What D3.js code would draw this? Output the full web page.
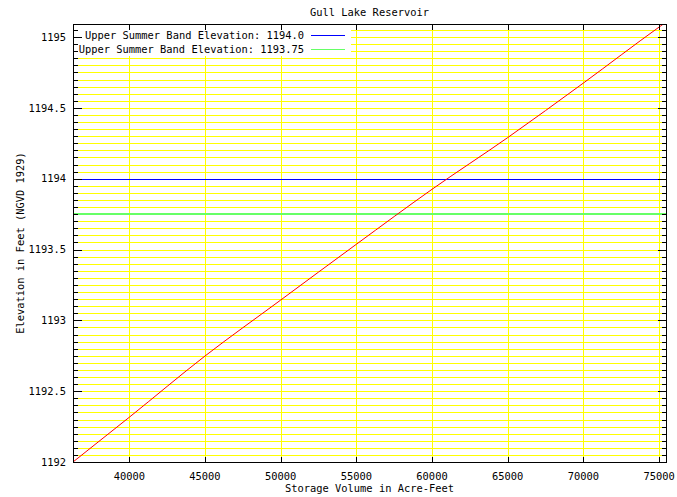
<!DOCTYPE html>
<html>
<head>
<meta charset="utf-8">
<script src="https://cdn.jsdelivr.net/npm/d3@7"></script>
<style>
  body { margin: 0; background: #fff; }
  svg text { font-family: "DejaVu Sans Mono", monospace; font-size: 10.4px; fill: #000; }
</style>
</head>
<body>
<svg id="chart"></svg>
<script>
'use strict';

// storage / elevation curve
const storage = [36280, 40000, 45000, 50000, 55000, 60000, 65000, 70000, 75000, 75460];
const elevation = [1192.0, 1192.316, 1192.748, 1193.143, 1193.537, 1193.925, 1194.29, 1194.675, 1195.07, 1195.105];

const bandLabels = ['Upper Summer Band Elevation: 1194.0', 'Upper Summer Band Elevation: 1193.75'];
const bandValues = [1194.0, 1193.75];
const bandColors = ['#0000ff', '#66ff66'];

const xTicks = [40000, 45000, 50000, 55000, 60000, 65000, 70000, 75000];
const yTicks = [1192, 1192.5, 1193, 1193.5, 1194, 1194.5, 1195];

const width = 677;
const height = 497;
const plotL = 73, plotR = 666, plotT = 24, plotB = 462;

const x = d3.scaleLinear().domain([36280, 75460]).range([plotL, plotR]);
const y = d3.scaleLinear().domain([1192, 1195.092]).range([plotB, plotT]);
const yMinor = d3.range(0, 62).map((i) => 1192 + i * 0.05);
const py = (d) => Math.round(y(d)) + 0.5;
const px = (d) => Math.round(x(d)) + 0.5;

const svg = d3.select('#chart')
    .attr('width', width)
    .attr('height', height);

svg.append('clipPath').attr('id', 'plot')
  .append('rect')
    .attr('x', plotL).attr('y', plotT)
    .attr('width', plotR - plotL).attr('height', plotB - plotT);

// yellow grid
const grid = svg.append('g')
    .attr('stroke', '#ffff00')
    .attr('stroke-width', 1)
    .attr('shape-rendering', 'crispEdges');
grid.selectAll('line.h')
    .data(yMinor.slice(1))
    .enter().append('line')
    .attr('class', 'h')
    .attr('x1', plotL).attr('x2', plotR)
    .attr('y1', py).attr('y2', py);
grid.selectAll('line.v')
    .data(xTicks)
    .enter().append('line')
    .attr('class', 'v')
    .attr('y1', plotT).attr('y2', plotB)
    .attr('x1', px).attr('x2', px);

// band lines
svg.append('g').selectAll('line')
    .data(bandValues)
    .enter().append('line')
    .attr('shape-rendering', 'crispEdges')
    .attr('x1', plotL).attr('x2', plotR)
    .attr('y1', (d, i) => i === 1 ? Math.round(y(d)) : py(d))
    .attr('y2', (d, i) => i === 1 ? Math.round(y(d)) : py(d))
    .attr('stroke', (d, i) => bandColors[i])
    .attr('stroke-width', (d, i) => i === 1 ? 2 : 1);

// storage curve
const line = d3.line()
    .x((d, i) => x(storage[i]))
    .y((d) => y(d))
    .curve(d3.curveMonotoneX);
svg.append('path')
    .attr('clip-path', 'url(#plot)')
    .attr('d', line(elevation))
    .attr('fill', 'none')
    .attr('stroke', '#ff0000')
    .attr('stroke-width', 1);

// legend box
svg.append('rect')
    .attr('x', plotL + 1).attr('y', plotT + 1)
    .attr('width', 277).attr('height', 31)
    .attr('fill', '#fff');
const legend = svg.append('g').selectAll('g')
    .data(bandLabels)
    .enter().append('g')
    .attr('transform', (d, i) => 'translate(0,' + (35 + i * 14) + ')');
legend.append('text')
    .attr('x', 304)
    .attr('dy', '0.35em')
    .style('text-anchor', 'end')
    .text((d) => d);
legend.append('line')
    .attr('shape-rendering', 'crispEdges')
    .attr('x1', 311).attr('x2', 345)
    .attr('y1', 0.5).attr('y2', 0.5)
    .attr('stroke', (d, i) => bandColors[i])
    .attr('stroke-width', 1);

// frame
svg.append('rect')
    .attr('shape-rendering', 'crispEdges')
    .attr('x', plotL + 0.5).attr('y', plotT + 0.5)
    .attr('width', plotR - plotL).attr('height', plotB - plotT)
    .attr('fill', 'none')
    .attr('stroke', '#000');

// ticks
const ticks = svg.append('g')
    .attr('stroke', '#000')
    .attr('stroke-width', 1)
    .attr('shape-rendering', 'crispEdges');
ticks.selectAll('line.yl')
    .data(yMinor)
    .enter().append('line')
    .attr('class', 'yl')
    .attr('x1', plotL)
    .attr('x2', (d, i) => plotL + (i % 10 === 0 ? 9 : 5))
    .attr('y1', py).attr('y2', py);
ticks.selectAll('line.yr')
    .data(yMinor)
    .enter().append('line')
    .attr('class', 'yr')
    .attr('x1', plotR + 1)
    .attr('x2', (d, i) => plotR + 1 - (i % 10 === 0 ? 9 : 5))
    .attr('y1', py).attr('y2', py);
ticks.selectAll('line.xb')
    .data(xTicks)
    .enter().append('line')
    .attr('class', 'xb')
    .attr('x1', px).attr('x2', px)
    .attr('y1', plotB).attr('y2', plotB - 5);
ticks.selectAll('line.xt')
    .data(xTicks)
    .enter().append('line')
    .attr('class', 'xt')
    .attr('x1', px).attr('x2', px)
    .attr('y1', plotT + 1).attr('y2', plotT + 6);

// tick labels
svg.append('g').selectAll('text')
    .data(yTicks)
    .enter().append('text')
    .attr('x', 66)
    .attr('y', (d) => y(d))
    .attr('dy', '0.35em')
    .style('text-anchor', 'end')
    .text((d) => d);
svg.append('g').selectAll('text')
    .data(xTicks)
    .enter().append('text')
    .attr('x', (d) => x(d))
    .attr('y', 476)
    .attr('dy', '0.35em')
    .style('text-anchor', 'middle')
    .text((d) => d);

// titles
svg.append('text')
    .attr('x', (plotL + plotR) / 2).attr('y', 12)
    .attr('dy', '0.35em')
    .style('text-anchor', 'middle')
    .text('Gull Lake Reservoir');
svg.append('text')
    .attr('x', (plotL + plotR) / 2).attr('y', 488)
    .attr('dy', '0.35em')
    .style('text-anchor', 'middle')
    .text('Storage Volume in Acre-Feet');
svg.append('text')
    .attr('transform', 'translate(20,' + (plotT + plotB) / 2 + ') rotate(-90)')
    .attr('dy', '0.35em')
    .style('text-anchor', 'middle')
    .text('Elevation in Feet (NGVD 1929)');
</script>
</body>
</html>
